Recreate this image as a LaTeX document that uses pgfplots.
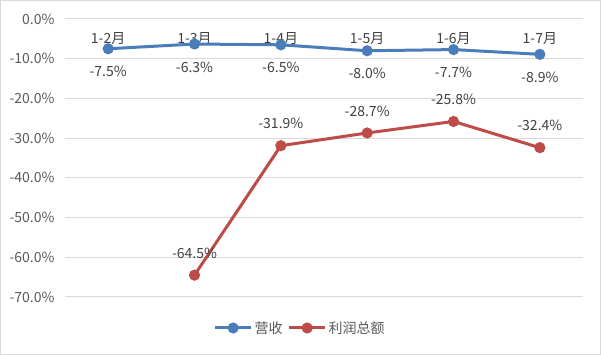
\documentclass[border=0pt]{standalone}
\usepackage{fontspec}
\setmainfont{Noto Sans CJK SC}
\usepackage{pgfplots}
\pgfplotsset{compat=1.18}
\definecolor{cblue}{HTML}{4A7EBB}
\definecolor{cred}{HTML}{BE4B48}
\definecolor{tgray}{HTML}{595959}
\definecolor{gridc}{HTML}{D9D9D9}
\definecolor{lab}{HTML}{404040}
\begin{document}
\begin{tikzpicture}[x=1pt,y=1pt]
\draw[gridc, line width=1pt] (0.5,0.5) rectangle (600.5,354.5);
\begin{axis}[at={(65pt,58pt)}, anchor=south west, scale only axis,
  width=518pt, height=278pt,
  xmin=-0.5, xmax=5.5, ymin=-70, ymax=0,
  clip=false,
  xtick={0,...,5},
  xticklabels={1-2月,1-3月,1-4月,1-5月,1-6月,1-7月},
  xticklabel pos=upper,
  xticklabel style={anchor=north, yshift=-10pt, text=lab, font=\fontsize{14}{17}\selectfont},
  ytick={-70,-60,...,0},
  yticklabels={-70.0\%,-60.0\%,-50.0\%,-40.0\%,-30.0\%,-20.0\%,-10.0\%,0.0\%},
  yticklabel style={text=tgray, xshift=-7pt, font=\fontsize{14}{17}\selectfont},
  axis line style={draw=none},
  major tick length=0pt,
  ymajorgrids,
  grid style={gridc, line width=1pt},
  legend style={at={(0.454,-0.1115)}, anchor=center, draw=none, fill=none,
    legend columns=-1, font=\fontsize{14}{17}\selectfont, text=tgray,
    /tikz/every even column/.append style={column sep=3pt}},
  legend image code/.code={\draw[mark repeat=2,mark phase=2] plot coordinates {(0pt,0pt) (18pt,0pt) (36pt,0pt)};},
  point meta=explicit symbolic,
  nodes near coords,
]
\addplot[cblue, line width=3pt, mark=*, mark size=4pt, mark options={solid},
  every node near coord/.append style={text=lab, anchor=center, yshift=-23pt, font=\fontsize{14}{17}\selectfont}]
  coordinates {(0,-7.5) [-7.5\%] (1,-6.3) [-6.3\%] (2,-6.5) [-6.5\%] (3,-8.0) [-8.0\%] (4,-7.7) [-7.7\%] (5,-8.9) [-8.9\%]};
\addlegendentry{营收}
\addplot[cred, line width=3pt, mark=*, mark size=4pt, mark options={solid},
  every node near coord/.append style={text=lab, anchor=center, yshift=22pt, font=\fontsize{14}{17}\selectfont}]
  coordinates {(1,-64.5) [-64.5\%] (2,-31.9) [-31.9\%] (3,-28.7) [-28.7\%] (4,-25.8) [-25.8\%] (5,-32.4) [-32.4\%]};
\addlegendentry{利润总额}
\end{axis}
\end{tikzpicture}
\end{document}
